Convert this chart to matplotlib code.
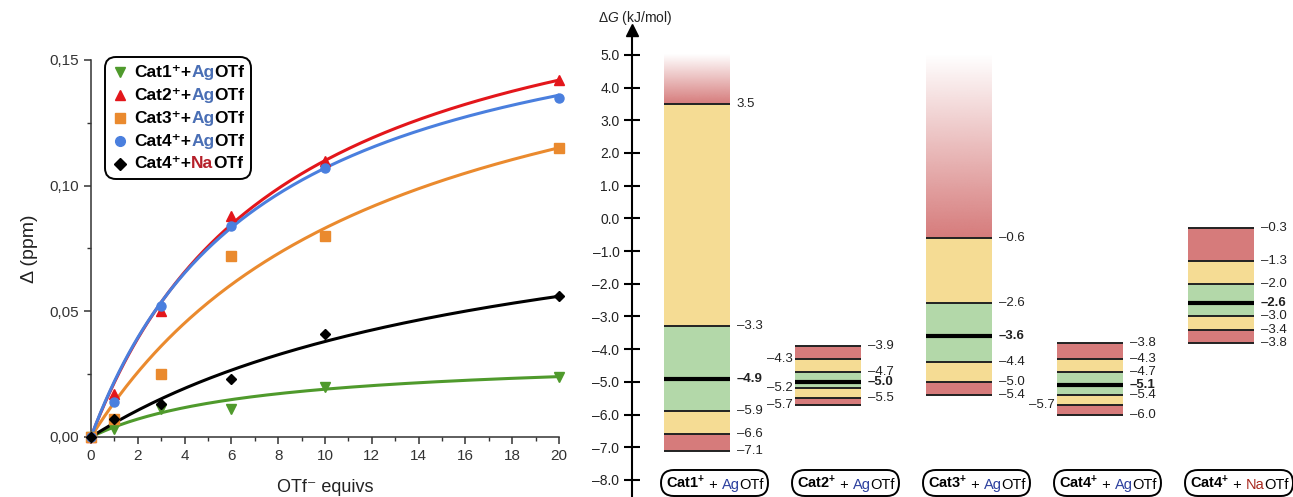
import numpy as np
import matplotlib
matplotlib.use("Agg")
import matplotlib.pyplot as plt
from matplotlib.ticker import MultipleLocator, FuncFormatter
from matplotlib.lines import Line2D
from matplotlib.offsetbox import (TextArea, HPacker, VPacker, DrawingArea,
                                  AnchoredOffsetbox, AnnotationBbox)

plt.rcParams['font.family'] = ['Liberation Sans', 'DejaVu Sans']
plt.rcParams['mathtext.fontset'] = 'custom'
plt.rcParams['mathtext.rm'] = 'Liberation Sans'
plt.rcParams['mathtext.it'] = 'Liberation Sans:italic'
plt.rcParams['mathtext.bf'] = 'Liberation Sans:bold'

# ---- titration data (left panel) ----
equivs = [0, 1, 3, 6, 10, 20]
cat1_ag = [0, 0.003, 0.011, 0.011, 0.020, 0.024]
cat2_ag = [0, 0.017, 0.050, 0.088, 0.110, 0.142]
cat3_ag = [0, 0.007, 0.025, 0.072, 0.080, 0.115]
cat4_ag = [0, 0.014, 0.052, 0.084, 0.107, 0.135]
cat4_na = [0, 0.007, 0.013, 0.023, 0.041, 0.056]

# 1:1 binding fits, delta = dmax * x / (kd + x)
fit_dmax = [0.0326, 0.2003, 0.187, 0.1865, 0.1064]
fit_kd = [7.14, 8.21, 12.5, 7.43, 18.0]

series_cat = ['Cat1', 'Cat2', 'Cat3', 'Cat4', 'Cat4']
series_salt = ['Ag', 'Ag', 'Ag', 'Ag', 'Na']
series_vals = [cat1_ag, cat2_ag, cat3_ag, cat4_ag, cat4_na]
series_col = ['#4f9a2c', '#e3161b', '#ea8a2e', '#4a7fde', '#000000']
series_mk = ['v', '^', 's', 'o', 'D']
salt_col_left = {'Ag': '#4a6fb5', 'Na': '#b5202a'}

# ---- free energy windows (right panel) ----
dg_cat = ['Cat1', 'Cat2', 'Cat3', 'Cat4', 'Cat4']
dg_salt = ['Ag', 'Ag', 'Ag', 'Ag', 'Na']
red_top = [None, -3.9, None, -3.8, -0.3]
yellow_top = [3.5, -4.3, -0.6, -4.3, -1.3]
green_top = [-3.3, -4.7, -2.6, -4.7, -2.0]
centre = [-4.9, -5.0, -3.6, -5.1, -2.6]
green_bot = [-5.9, -5.2, -4.4, -5.4, -3.0]
yellow_bot = [-6.6, -5.5, -5.0, -5.7, -3.4]
red_bot = [-7.1, -5.7, -5.4, -6.0, -3.8]
left_labels = [[], [-4.3, -5.2, -5.7], [], [-5.7], []]
dg_ticks = [5.0, 4.0, 3.0, 2.0, 1.0, 0.0, -1.0, -2.0, -3.0, -4.0, -5.0, -6.0, -7.0, -8.0]
salt_col_right = {'Ag': '#2b3f9e', 'Na': '#a8281e'}

RED = '#d67b7b'
YELLOW = '#f5dc94'
GREEN = '#b3d8a9'
LIB = 'Liberation Sans'

fig = plt.figure(figsize=(12.93, 4.97), dpi=100)

# ================= left panel =================
ax = fig.add_axes([91 / 1293, 60 / 497, 468 / 1293, 377 / 497])
xs = np.linspace(0, 20, 200)
for dmax, kd, col in zip(fit_dmax, fit_kd, series_col):
    ax.plot(xs, dmax * xs / (kd + xs), color=col, lw=2.2, zorder=2)
for vals, col, mk in zip(series_vals, series_col, series_mk):
    ax.plot(equivs, vals, linestyle='none', marker=mk, color=col,
            markersize=6.5 if mk != 'D' else 5.5, clip_on=False, zorder=3)

ax.set_xlim(0, 20)
ax.set_ylim(0, 0.15)
for side in ['top', 'right']:
    ax.spines[side].set_visible(False)
for side in ['left', 'bottom']:
    ax.spines[side].set_linewidth(1.1)
    ax.spines[side].set_color('#333333')
ax.xaxis.set_major_locator(MultipleLocator(2))
ax.xaxis.set_minor_locator(MultipleLocator(1))
ax.yaxis.set_major_locator(MultipleLocator(0.05))
ax.yaxis.set_minor_locator(MultipleLocator(0.025))
ax.yaxis.set_major_formatter(FuncFormatter(lambda v, p: f"{v:.2f}".replace('.', ',')))
ax.tick_params(which='major', direction='out', length=5, width=1.1,
               color='#333333', labelsize=11, labelcolor='#333333')
ax.tick_params(which='minor', direction='out', length=3, width=1.0, color='#333333')
ax.set_xlabel('OTf⁻ equivs', fontsize=13, color='#222222', labelpad=12)
ax.set_ylabel('Δ (ppm)', fontsize=14, color='#222222', labelpad=8)

rows = []
for cat, salt, col, mk in zip(series_cat, series_salt, series_col, series_mk):
    da = DrawingArea(12, 12, 0, 0)
    da.add_artist(Line2D([6], [6], marker=mk, color=col, linestyle='none',
                         markersize=7 if mk != 'D' else 6))
    pieces = [TextArea(cat + '⁺+', textprops=dict(weight='bold', size=12.5)),
              TextArea(salt, textprops=dict(color=salt_col_left[salt], size=12.5,
                                            family=LIB, weight='bold')),
              TextArea('OTf', textprops=dict(size=12.5, weight='bold', family=LIB))]
    rows.append(HPacker(children=[da, HPacker(children=pieces, sep=0, pad=0, align='baseline')],
                        sep=4, pad=0, align='center'))
legend_box = VPacker(children=rows, sep=4.5, pad=0, align='left')
anchored = AnchoredOffsetbox(loc='upper left', child=legend_box, pad=0.5, borderpad=0,
                             frameon=True, bbox_to_anchor=(105 / 1293, 1 - 57 / 497),
                             bbox_transform=fig.transFigure)
anchored.patch.set_boxstyle('round', pad=0, rounding_size=0.8)
anchored.patch.set_linewidth(1.4)
ax.add_artist(anchored)

# ================= right panel =================
bx = fig.add_axes([632 / 1293, 0, 661 / 1293, 467 / 497])
bx.set_xlim(-0.496, 4.55)
bx.set_ylim(-8.52, 5.76)
w = 0.5
for i in range(len(dg_cat)):
    # bands from the top down
    if red_top[i] is None:
        n = 256
        grad = np.ones((n, 1, 4))
        grad[..., :3] = matplotlib.colors.to_rgb(RED)
        grad[:, 0, 3] = np.linspace(0, 1, n)
        bx.imshow(grad, extent=[i - w / 2, i + w / 2, yellow_top[i], 5.0],
                  aspect='auto', interpolation='bilinear', zorder=1)
    else:
        bx.bar(i, red_top[i] - yellow_top[i], bottom=yellow_top[i], width=w,
               color=RED, zorder=1)
    bx.bar(i, yellow_top[i] - green_top[i], bottom=green_top[i], width=w, color=YELLOW, zorder=1)
    bx.bar(i, green_top[i] - green_bot[i], bottom=green_bot[i], width=w, color=GREEN, zorder=1)
    bx.bar(i, green_bot[i] - yellow_bot[i], bottom=yellow_bot[i], width=w, color=YELLOW, zorder=1)
    bx.bar(i, yellow_bot[i] - red_bot[i], bottom=red_bot[i], width=w, color=RED, zorder=1)

    levels = [red_top[i], yellow_top[i], green_top[i], green_bot[i], yellow_bot[i], red_bot[i]]
    levels = [v for v in levels if v is not None]
    bx.hlines(levels, i - w / 2, i + w / 2, color='#222222', lw=1.4, zorder=2)
    bx.hlines(centre[i], i - w / 2, i + w / 2, color='black', lw=3, zorder=2)

    for v in levels + [centre[i]]:
        txt = f"{v:.1f}".replace('-', '–')
        bold = 'bold' if v == centre[i] else 'normal'
        if v in left_labels[i]:
            bx.text(i - w / 2 - 0.02, v, txt, ha='right', va='center', fontsize=9.5,
                    weight=bold, color='#222222')
        else:
            bx.text(i + w / 2 + 0.055, v, txt, ha='left', va='center', fontsize=9.5,
                    weight=bold, color='#222222')

    pieces = [TextArea(r'$\mathbf{%s}^{\mathbf{+}}$' % dg_cat[i], textprops=dict(size=10.5)),
              TextArea(' + ', textprops=dict(size=10.5, family=LIB)),
              TextArea(dg_salt[i], textprops=dict(color=salt_col_right[dg_salt[i]], size=10.5,
                                                   family=LIB)),
              TextArea('OTf', textprops=dict(size=10.5, family=LIB))]
    lab = HPacker(children=pieces, sep=0, pad=0, align='baseline')
    ab = AnnotationBbox(lab, (i - w / 2 + 0.01, -8.09), box_alignment=(0, 0.5),
                        frameon=True, pad=0.3, annotation_clip=False,
                        bboxprops=dict(boxstyle='round,pad=0.3,rounding_size=0.9',
                                       lw=1.4, ec='black', fc='white'))
    bx.add_artist(ab)

for side in ['top', 'right', 'bottom']:
    bx.spines[side].set_visible(False)
bx.spines['left'].set_linewidth(1.5)
bx.set_xticks([])
bx.set_yticks(dg_ticks)
bx.set_yticklabels([f"{v:.1f}".replace('-', '–') for v in dg_ticks])
bx.tick_params(axis='y', direction='inout', length=12, width=1.5, labelsize=10,
               labelcolor='#222222', pad=3)
bx.plot([0], [1], marker='^', markersize=9, color='black', transform=bx.transAxes,
        clip_on=False)
fig.text(598 / 1293, 1 - 18 / 497, r'$\Delta\mathit{G}$ (kJ/mol)', fontsize=10,
         va='center', ha='left', color='#222222')

fig.savefig('out.png', dpi=100)
